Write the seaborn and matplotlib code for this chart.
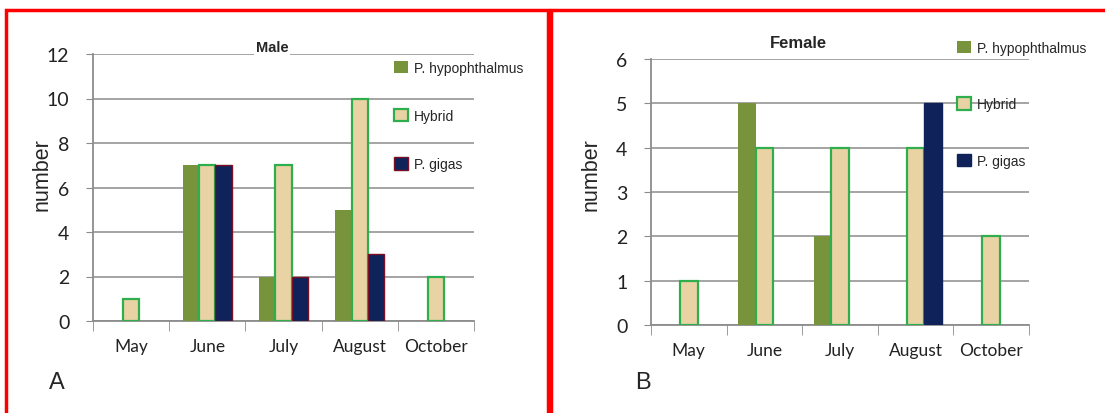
import matplotlib
matplotlib.use("Agg")
import matplotlib.pyplot as plt
import seaborn as sns
import pandas as pd
from matplotlib.patches import Patch, Rectangle

# Dados
months = ["May", "June", "July", "August", "October"]
species = ["P. hypophthalmus", "Hybrid", "P. gigas"]
male_hypo = [0, 7, 2, 5, 0]
male_hybrid = [1, 7, 7, 10, 2]
male_gigas = [0, 7, 2, 3, 0]
female_hypo = [0, 5, 2, 0, 0]
female_hybrid = [1, 4, 4, 4, 2]
female_gigas = [0, 0, 0, 5, 0]

green = "#77933C"
tan = "#E9D3A4"
navy = "#0F2259"
edge_green = "#2FAE4E"


def long_df(hypo, hybrid, gigas):
    rows = []
    for sp, vals in zip(species, [hypo, hybrid, gigas]):
        for m, v in zip(months, vals):
            rows.append({"month": m, "species": sp, "count": v})
    return pd.DataFrame(rows)


sns.set_style("white")
plt.rcParams["font.family"] = ["Liberation Sans", "DejaVu Sans"]

fig = plt.figure(figsize=(11.05, 4.14), dpi=100)
fig.patch.set_facecolor("white")

# Molduras vermelhas
fig.patches.append(Rectangle((6 / 1105, -0.05), 542 / 1105, 1 - 11 / 414 + 0.05,
                             transform=fig.transFigure, fill=False,
                             edgecolor="#FF0000", linewidth=2.5))
fig.patches.append(Rectangle((551 / 1105, -0.05), 560 / 1105, 1 - 11 / 414 + 0.05,
                             transform=fig.transFigure, fill=False,
                             edgecolor="#FF0000", linewidth=2.5))

panels = [
    dict(rect=[93 / 1105, 92 / 414, 381 / 1105, 267 / 414],
         data=(male_hypo, male_hybrid, male_gigas), ymax=12, step=2,
         title="Male", tsize=10.5, ty=48, tx=272, width=0.64,
         gigas_edge="#7A1025", letter="A", lx=57, ylx=42,
         leg=(394, 62), spacing=2.45),
    dict(rect=[651 / 1105, 88 / 414, 378 / 1105, 266 / 414],
         data=(female_hypo, female_hybrid, female_gigas), ymax=6, step=1,
         title="Female", tsize=12, ty=43, tx=798, width=0.7,
         gigas_edge=navy, letter="B", lx=643, ylx=591,
         leg=(957, 42), spacing=3.05),
]

for p in panels:
    ax = fig.add_axes(p["rect"])
    df = long_df(*p["data"])
    sns.barplot(data=df, x="month", y="count", hue="species",
                palette=[green, tan, navy], saturation=1, width=p["width"],
                legend=False, ax=ax, zorder=3)
    edges = [green, edge_green, p["gigas_edge"]]
    lws = [0, 1.6, 1.0]
    for cont, ec, lw in zip(ax.containers, edges, lws):
        for bar in cont:
            bar.set_edgecolor(ec)
            bar.set_linewidth(lw if bar.get_height() > 0 else 0)

    ax.set_xlim(-0.5, 4.5)
    ax.set_ylim(0, p["ymax"])
    ax.set_yticks(range(0, p["ymax"] + 1, p["step"]))
    ax.yaxis.grid(True, color="#8C8C8C", linewidth=1.1, zorder=0)
    ax.set_axisbelow(True)
    ax.set_xlabel("")
    ax.set_ylabel("")
    for s in ["top", "right"]:
        ax.spines[s].set_visible(False)
    for s in ["left", "bottom"]:
        ax.spines[s].set_color("#8C8C8C")
        ax.spines[s].set_linewidth(1.3)
    ax.set_xticks([i - 0.5 for i in range(6)], minor=True)
    ax.tick_params(axis="x", which="minor", length=7, color="#8C8C8C", direction="out", bottom=True)
    ax.tick_params(axis="x", which="major", length=0, pad=12, labelsize=12.5, colors="#222222")
    ax.tick_params(axis="y", length=5, color="#8C8C8C", direction="out", left=True,
                   pad=12, labelsize=14, labelcolor="#222222")
    for lab in ax.get_xticklabels():
        lab.set_family(["Lato", "DejaVu Sans"])
    for lab in ax.get_yticklabels():
        lab.set_family(["Lato", "DejaVu Sans"])

    fig.text(p["tx"] / 1105, 1 - p["ty"] / 414, p["title"], ha="center", va="center",
             fontsize=p["tsize"], fontweight="bold",
             bbox=dict(facecolor="white", edgecolor="none", pad=1.5))
    fig.text(p["ylx"] / 1105, 1 - 175 / 414, "number", rotation=90, ha="center",
             va="center", fontsize=15.5)
    fig.text(p["lx"] / 1105, 1 - 383 / 414, p["letter"], ha="center", va="center",
             fontsize=17)

    handles = [Patch(facecolor=green, edgecolor=green, linewidth=0),
               Patch(facecolor=tan, edgecolor=edge_green, linewidth=1.6),
               Patch(facecolor=navy, edgecolor=p["gigas_edge"], linewidth=1.0)]
    fig.legend(handles, species, loc="upper left",
               bbox_to_anchor=(p["leg"][0] / 1105, 1 - p["leg"][1] / 414),
               frameon=False, fontsize=10, handlelength=1.0, handleheight=1.0,
               handletextpad=0.45, labelspacing=p["spacing"], borderpad=0,
               borderaxespad=0)

fig.savefig("out.png", dpi=100, facecolor="white")
